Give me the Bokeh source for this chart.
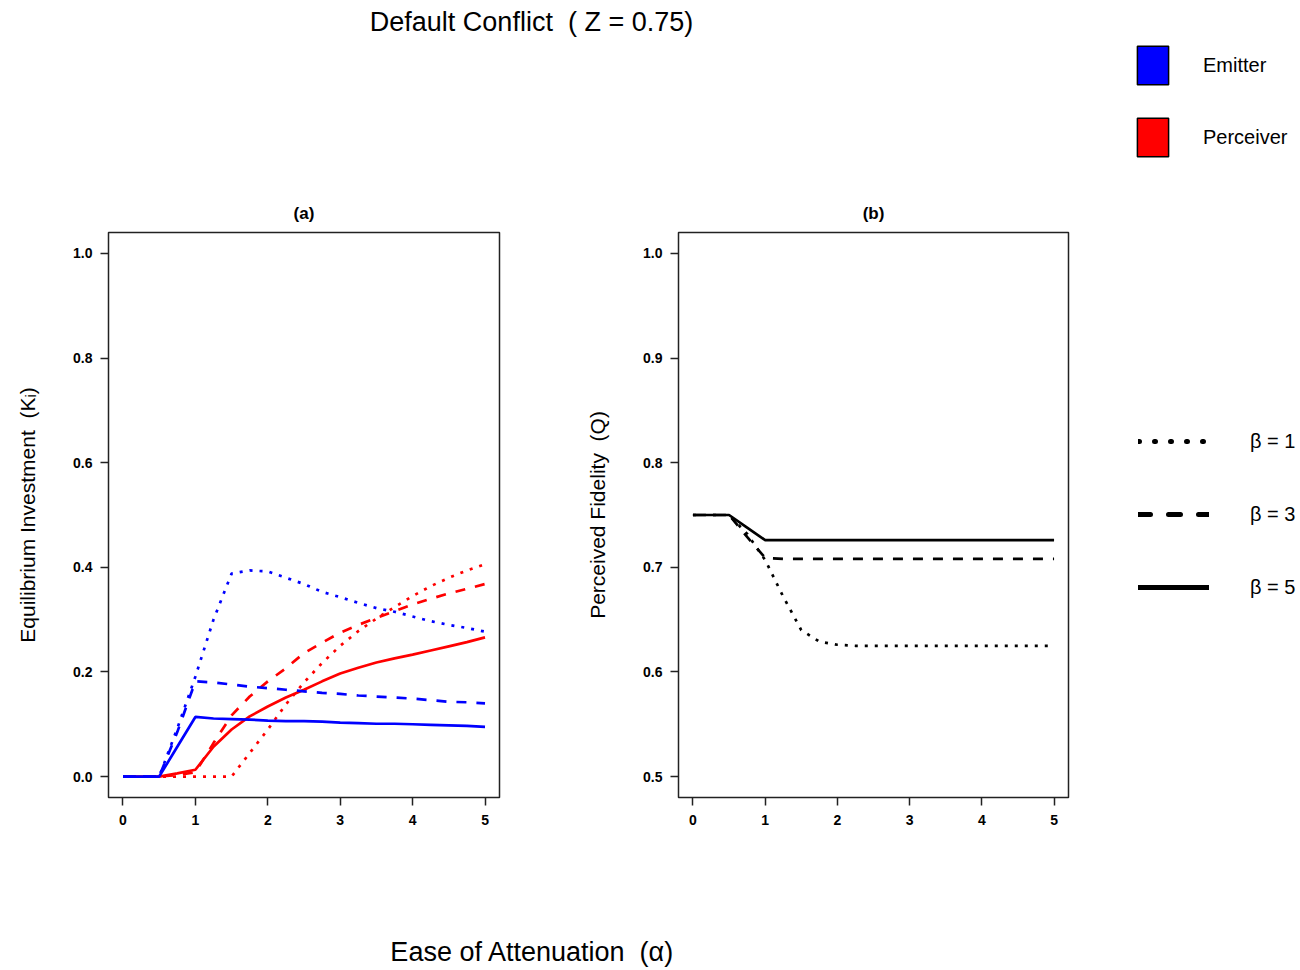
from bokeh.plotting import figure
from bokeh.models import Range1d, FixedTicker, PrintfTickFormatter, Legend, LegendItem
from bokeh.layouts import column, row
from bokeh.embed import file_html
from bokeh.resources import INLINE
from bokeh.core.properties import value

# ---------------- data ----------------
alpha = [0, 0.25, 0.5, 0.75, 1, 1.25, 1.5, 1.75, 2, 2.25, 2.5, 2.75, 3,
         3.25, 3.5, 3.75, 4, 4.25, 4.5, 4.75, 5]

emitter_b1 = [0, 0, 0, 0.092, 0.191, 0.300, 0.388, 0.394, 0.392, 0.380, 0.368,
              0.353, 0.343, 0.332, 0.322, 0.315, 0.306, 0.297, 0.290, 0.284, 0.277]
emitter_b3 = [0, 0, 0, 0.085, 0.182, 0.180, 0.176, 0.172, 0.169, 0.166, 0.163,
              0.160, 0.158, 0.155, 0.153, 0.151, 0.149, 0.146, 0.143, 0.142, 0.140]
emitter_b5 = [0, 0, 0, 0.057, 0.114, 0.111, 0.110, 0.109, 0.107, 0.106, 0.106,
              0.105, 0.103, 0.102, 0.101, 0.101, 0.100, 0.099, 0.098, 0.097, 0.095]

perceiver_b1 = [0, 0, 0, 0, 0, 0, 0, 0.045, 0.090, 0.138, 0.180,
                0.217, 0.250, 0.278, 0.302, 0.324, 0.345, 0.364, 0.380, 0.394, 0.406]
perceiver_b3 = [0, 0, 0, 0.003, 0.008, 0.064, 0.117, 0.153, 0.182, 0.207, 0.236,
                0.256, 0.275, 0.290, 0.303, 0.316, 0.329, 0.340, 0.350, 0.359, 0.368]
perceiver_b5 = [0, 0, 0, 0.006, 0.013, 0.057, 0.090, 0.115, 0.134, 0.151, 0.166,
                0.182, 0.197, 0.208, 0.218, 0.226, 0.233, 0.241, 0.249, 0.257, 0.266]

fidelity_b1 = [0.75, 0.75, 0.75, 0.732, 0.707, 0.672, 0.640, 0.629, 0.626, 0.625, 0.625,
               0.625, 0.625, 0.625, 0.625, 0.625, 0.625, 0.625, 0.625, 0.625, 0.625]
fidelity_b3 = [0.75, 0.75, 0.75, 0.729, 0.709, 0.708, 0.708, 0.708, 0.708, 0.708, 0.708,
               0.708, 0.708, 0.708, 0.708, 0.708, 0.708, 0.708, 0.708, 0.708, 0.708]
fidelity_b5 = [0.75, 0.75, 0.75, 0.738, 0.726, 0.726, 0.726, 0.726, 0.726, 0.726, 0.726,
               0.726, 0.726, 0.726, 0.726, 0.726, 0.726, 0.726, 0.726, 0.726, 0.726]

x_ticks = [0, 1, 2, 3, 4, 5]
ya_ticks = [0.0, 0.2, 0.4, 0.6, 0.8, 1.0]
yb_ticks = [0.5, 0.6, 0.7, 0.8, 0.9, 1.0]

roles = ["Emitter", "Perceiver"]
role_colors = ["blue", "red"]
beta_labels = ["β = 1", "β = 3", "β = 5"]

FONT = "Liberation Sans"
NB = "\u00a0"
DOTTED = "3 7"
DASHED = "10 10"
DASHES = [DOTTED, DASHED, "solid"]
HEADER_H = 190
ROW_H = 670


def make_panel(title, y0, y1, yticks, ylabel, width, right_border):
    p = figure(width=width, height=ROW_H, x_range=Range1d(-0.2, 5.2),
               y_range=Range1d(y0, y1), output_backend="svg",
               toolbar_location=None, min_border_left=108,
               min_border_right=right_border, min_border_top=42,
               min_border_bottom=63, title=title)
    p.title.align = "center"
    p.title.text_font = FONT
    p.title.text_font_size = "17px"
    p.title.text_font_style = "bold"
    p.title.text_color = "black"
    p.title.standoff = 19
    p.xgrid.visible = False
    p.ygrid.visible = False
    p.outline_line_color = "#222222"
    p.outline_line_width = 1.5
    p.background_fill_color = "white"
    p.border_fill_color = "white"
    for ax in (p.xaxis[0], p.yaxis[0]):
        ax.axis_line_color = None
        ax.major_tick_out = 8
        ax.major_tick_in = 0
        ax.minor_tick_line_color = None
        ax.major_tick_line_width = 1.5
        ax.major_tick_line_color = "#222222"
        ax.major_label_text_font = FONT
        ax.major_label_text_font_size = "14px"
        ax.major_label_text_font_style = "bold"
        ax.major_label_text_color = "black"
    p.xaxis.ticker = FixedTicker(ticks=x_ticks)
    p.yaxis.ticker = FixedTicker(ticks=yticks)
    p.yaxis.formatter = PrintfTickFormatter(format="%.1f")
    p.xaxis.major_label_standoff = 9
    p.yaxis.major_label_standoff = 8
    p.yaxis.axis_label = ylabel
    p.yaxis.axis_label_text_font = FONT
    p.yaxis.axis_label_text_font_size = "21px"
    p.yaxis.axis_label_text_font_style = "normal"
    p.yaxis.axis_label_text_color = "black"
    p.yaxis.axis_label_standoff = 31
    return p


def blank(width, height, xr, yr):
    p = figure(width=width, height=height, x_range=xr, y_range=yr,
               output_backend="svg", toolbar_location=None, min_border=0, title=None)
    p.axis.visible = False
    p.grid.visible = False
    p.outline_line_color = None
    p.background_fill_color = "white"
    p.border_fill_color = "white"
    return p


# ---------------- panel (a) ----------------
pa = make_panel("(a)", -0.04, 1.04, ya_ticks,
                "Equilibrium Investment" + NB + NB + "(Kᵢ)", 570, 71)
for ys, dash in zip([perceiver_b1, perceiver_b3, perceiver_b5], DASHES):
    pa.line(alpha, ys, line_color=role_colors[1], line_width=2.7, line_dash=dash)
for ys, dash in zip([emitter_b1, emitter_b3, emitter_b5], DASHES):
    pa.line(alpha, ys, line_color=role_colors[0], line_width=2.7, line_dash=dash)

# ---------------- panel (b) ----------------
pb = make_panel("(b)", 0.48, 1.02, yb_ticks,
                "Perceived Fidelity" + NB + NB + "(Q)", 530, 32)
for ys, dash in zip([fidelity_b1, fidelity_b3, fidelity_b5], DASHES):
    pb.line(alpha, ys, line_color="black", line_width=2.7, line_dash=dash)

# ---------------- side legend (line styles) ----------------
side = blank(200, ROW_H, Range1d(-0.2, 5.2), Range1d(0.48, 1.02))
legend_dashes = ["1 15", "12 18", "solid"]
items = []
for ys, dash, lab in zip([fidelity_b1, fidelity_b3, fidelity_b5], legend_dashes, beta_labels):
    r = side.line(alpha, ys, line_color="black", line_width=5, line_dash=dash,
                  line_cap="round", visible=False)
    items.append(LegendItem(label=lab, renderers=[r]))
beta_legend = Legend(items=items, location=(38, 195), orientation="vertical",
                     glyph_width=71, glyph_height=30, label_height=30,
                     label_standoff=41, spacing=43, padding=0, margin=0,
                     border_line_color=None, background_fill_alpha=0,
                     label_text_font=FONT, label_text_font_size="20px",
                     label_text_color="black")
side.add_layout(beta_legend)

# ---------------- header ----------------
header = blank(1300, HEADER_H, Range1d(0, 1300), Range1d(HEADER_H, 0))
header.text(x=[531], y=[21], text=["Default Conflict" + NB + NB + "(" + NB + "Z = 0.75)"],
            text_font=value(FONT), text_font_size="27px", text_align="center",
            text_baseline="middle", text_color="black")
citems = []
for role, col in zip(roles, role_colors):
    r = header.quad(left=[0], right=[0], bottom=[0], top=[0], fill_color=col,
                    line_color="black", line_width=1.5, visible=False)
    citems.append(LegendItem(label=role, renderers=[r]))
color_legend = Legend(items=citems, location=(1133, 39 - (200 - HEADER_H)),
                      orientation="vertical",
                      glyph_width=39, glyph_height=48, label_height=30,
                      label_standoff=31, spacing=24, padding=0, margin=0,
                      border_line_color=None, background_fill_alpha=0,
                      label_text_font=FONT, label_text_font_size="20px",
                      label_text_color="black")
header.add_layout(color_legend)

# ---------------- footer ----------------
footer = blank(1300, 110, Range1d(0, 1300), Range1d(110, 0))
footer.text(x=[532], y=[91], text=["Ease of Attenuation" + NB + NB + "(α)"],
            text_font=value(FONT), text_font_size="27px", text_align="center",
            text_baseline="middle", text_color="black")

layout = column(header, row(pa, pb, side), footer)
open("out.html", "w").write(file_html(layout, INLINE))
